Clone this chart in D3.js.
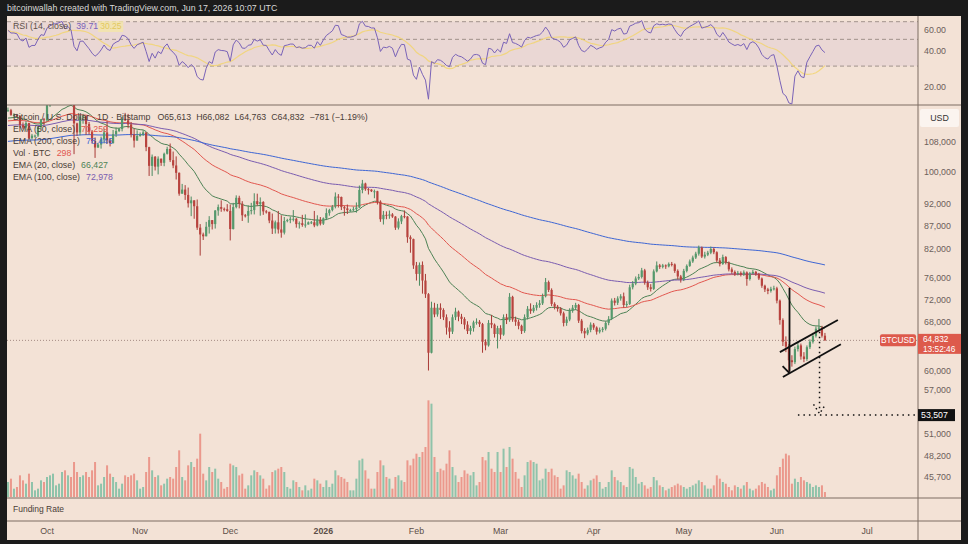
<!DOCTYPE html>
<html><head><meta charset="utf-8">
<script src="https://cdn.jsdelivr.net/npm/d3@7"></script>
<style>
body{margin:0;background:#1b1b1b;}
svg text{font-family:"Liberation Sans",Arial,sans-serif;}
</style></head><body><div id="chart"></div><script>
// daily BTCUSD (Bitstamp), thousands of USD, from Sep 18 2025 to Jun 17 2026
var startDate = Date.UTC(2025,8,18)
var firstOpen = 116.9
var close = [117.1,115.7,115.7,115.3,112.7,112.0,113.3,109.0,109.7,109.7,112.1,114.4,114.1,
 118.6,120.6,122.3,122.4,123.5,124.8,121.4,123.3,121.7,113.2,
 110.6,115.2,115.3,113.0,110.8,108.2,106.4,107.2,108.6,110.6,
 108.4,107.6,110.1,111.0,111.6,114.5,114.1,112.9,110.0,108.3,109.6,
 110.1,110.6,106.5,101.5,103.9,101.3,103.4,102.3,104.7,106.0,
 103.0,101.6,99.7,94.5,95.5,94.2,92.2,92.9,91.5,86.6,
 85.1,84.7,86.8,88.3,87.4,90.5,91.3,90.9,90.8,90.4,
 86.3,91.3,93.5,92.1,89.4,89.3,90.4,90.6,92.7,92.0,
 92.5,90.3,90.2,88.2,86.4,87.8,86.2,85.5,88.1,88.3,
 88.6,88.6,87.4,87.6,87.2,87.3,87.8,87.8,87.1,88.4,87.5,
 88.7,89.9,90.6,91.4,93.8,93.7,91.3,91.0,90.6,90.6,
 90.8,91.2,95.4,97.0,95.6,95.5,95.1,95.1,92.6,88.5,
 89.5,89.3,89.6,89.1,86.6,88.0,89.2,89.1,84.5,84.1,78.6,
 76.9,78.7,75.6,73.0,62.8,70.5,69.3,70.5,70.1,68.8,
 67.0,66.3,68.8,69.8,68.9,68.5,67.5,66.4,66.9,67.9,
 68.0,67.6,64.6,64.0,67.8,67.5,65.9,66.9,
 65.8,68.8,68.3,72.5,68.4,68.0,67.3,66.4,68.8,70.3,
 69.9,70.5,71.0,71.3,72.6,75.3,73.8,71.2,70.7,70.3,
 69.5,67.8,68.4,70.0,70.5,71.0,68.2,66.4,66.0,66.6,67.5,
 67.0,66.3,66.6,66.8,67.8,68.5,71.8,71.4,72.2,72.6,
 71.0,71.2,74.3,75.0,76.0,76.3,77.6,75.2,74.3,74.0,
 77.4,78.6,78.3,78.6,78.4,78.9,78.8,77.5,76.4,75.8,
 77.5,78.5,79.4,80.2,81.0,82.3,80.4,80.8,81.2,82.0,
 81.3,79.6,78.9,80.3,79.2,77.8,77.3,76.9,77.1,76.8,
 77.2,75.9,77.0,77.3,76.9,76.0,74.6,73.9,73.6,74.0,74.1,
 71.8,68.3,64.6,63.8,61.6,61.3,63.4,64.0,62.2,61.8,
 63.7,64.6,65.6,66.8,67.0,65.613,64.832]
var high = [117.9,117.5,116.2,116.0,115.4,113.5,113.9,113.4,110.2,110.0,112.4,114.5,114.8,
 118.8,121.0,123.9,122.9,125.6,126.2,125.1,124.2,123.8,122.5,
 113.4,115.8,116.0,115.4,113.6,111.3,109.2,107.7,109.4,111.7,
 114.0,109.0,111.3,112.0,111.9,115.2,116.3,116.0,113.6,111.7,111.2,
 110.6,111.2,110.7,106.6,104.5,104.1,104.0,103.4,105.0,106.6,
 107.5,105.3,104.0,99.8,96.9,96.6,96.0,93.8,92.9,93.1,
 87.4,85.5,87.9,89.2,88.2,90.6,91.9,92.9,91.2,92.0,
 91.9,92.3,94.1,94.0,92.7,89.7,91.7,92.3,94.6,94.5,
 93.6,92.7,90.6,90.1,89.8,88.2,90.4,89.4,89.0,88.6,
 89.1,90.6,88.8,88.0,89.5,89.6,88.0,88.1,90.4,89.4,89.0,
 88.9,91.0,90.9,91.8,94.8,94.4,93.8,91.6,91.9,90.9,
 91.4,92.4,96.5,97.9,97.2,95.9,95.6,95.5,95.2,92.9,
 90.4,90.3,90.5,89.9,89.2,88.7,89.5,90.5,89.2,84.9,84.2,
 79.3,79.2,79.4,76.9,73.2,71.6,71.4,71.2,71.3,70.4,
 69.3,68.1,69.3,70.5,70.0,69.4,68.8,68.1,67.3,68.2,
 68.6,68.3,67.8,65.0,68.3,69.2,67.7,67.3,
 67.4,69.3,69.4,73.2,72.7,68.9,68.4,67.5,69.3,70.8,
 71.3,71.0,71.5,71.9,73.1,76.1,75.6,74.1,71.5,71.0,
 70.6,69.8,68.9,70.4,71.0,71.4,71.2,68.5,66.9,67.0,67.9,
 67.8,67.2,67.0,67.1,68.1,69.0,72.2,72.3,72.6,73.0,
 73.3,71.7,74.8,75.5,76.4,76.9,78.1,77.9,75.6,74.9,
 77.8,79.4,78.9,78.9,78.8,79.2,79.3,79.0,77.8,76.7,
 77.9,78.8,79.8,80.6,81.4,82.7,82.5,81.4,81.6,82.5,
 82.3,81.5,80.1,80.8,80.5,79.4,78.2,77.6,77.5,77.4,
 77.6,77.4,77.3,77.7,77.5,77.1,76.2,74.8,74.2,74.4,74.6,
 74.4,72.0,68.6,65.5,64.2,62.4,63.8,64.6,64.3,62.9,
 64.0,65.0,66.1,67.2,68.5,67.3,66.082]
var low = [116.6,115.4,115.2,115.0,112.0,111.5,111.1,108.7,108.6,109.1,109.3,111.6,112.7,
 113.9,118.1,119.3,121.6,122.0,123.0,120.7,121.0,119.6,104.6,
 109.6,109.8,113.1,109.9,110.0,107.5,103.6,106.3,106.1,107.5,
 107.4,106.7,107.5,109.3,110.7,110.9,113.9,111.8,109.2,106.4,108.4,
 109.4,109.6,105.4,98.9,98.9,100.3,99.3,101.5,101.4,104.5,
 102.5,100.9,98.0,94.0,94.6,93.0,91.2,89.2,88.6,86.1,
 80.6,83.9,84.7,85.3,86.2,86.4,89.3,90.2,90.3,90.2,
 83.8,86.2,91.0,91.0,88.1,88.9,87.7,89.6,89.6,91.6,
 89.3,89.5,89.8,87.6,85.2,85.3,85.3,84.4,85.1,87.8,
 87.6,88.0,86.6,86.4,86.8,86.6,87.3,87.4,86.7,86.9,87.1,
 87.2,88.3,89.3,90.3,91.0,91.2,90.6,89.3,89.7,90.2,
 90.3,90.0,91.1,94.6,95.2,94.3,94.9,93.4,91.9,87.9,
 87.3,88.5,88.6,88.8,86.1,86.2,87.4,88.7,83.3,81.2,77.9,
 75.6,74.6,73.1,72.3,60.0,62.7,68.8,68.9,68.5,68.3,
 65.8,65.2,65.9,68.3,68.1,67.6,66.7,65.9,65.8,66.3,
 67.5,67.1,62.8,63.2,63.8,66.9,65.3,63.5,
 65.0,65.6,67.6,68.0,68.0,67.3,66.7,65.9,66.1,68.4,
 69.4,69.6,70.0,70.5,71.0,72.4,73.4,70.8,70.2,69.8,
 69.1,67.2,67.3,68.1,69.6,70.1,67.8,66.0,65.2,65.7,66.2,
 66.6,65.8,66.0,66.2,66.5,67.4,68.3,70.9,71.0,71.8,
 70.5,70.6,71.0,73.9,74.7,75.7,76.0,74.8,73.8,73.5,
 73.8,77.2,77.9,78.0,77.9,78.2,78.4,77.1,75.8,75.2,
 75.5,77.2,78.3,79.1,79.9,80.6,80.1,80.0,80.5,80.9,
 80.9,79.2,78.4,78.7,78.8,77.4,76.9,76.5,76.6,76.4,
 76.5,74.6,75.6,76.8,76.5,75.7,74.2,73.4,73.0,73.3,73.7,
 71.3,67.5,63.9,62.9,59.6,60.6,61.0,63.0,61.7,61.3,
 61.5,63.4,64.3,65.3,66.5,65.3,64.763]
// volume in BTC
var volume = [900,1100,500,600,1300,1000,800,1400,900,400,500,1000,900,
 1200,1300,1400,700,800,1500,1600,1300,1200,2100,
 1500,1200,1300,1500,1200,1600,2100,700,800,1200,
 1900,1400,1200,900,500,800,1300,1200,1300,1400,1000,
 500,600,1500,2400,1600,1200,1300,700,800,1100,
 1200,1100,1800,2800,1200,1000,1900,2100,1800,2300,
 3800,1400,1000,1800,1500,1700,1100,900,500,600,
 2000,1900,1800,1300,1400,500,700,1300,1600,1500,
 1300,1100,500,700,1500,1600,1700,1800,1500,600,
 500,1000,900,600,400,700,400,500,1100,1000,800,
 600,1000,600,800,1600,1300,1200,1100,900,400,
 400,1100,2200,2300,1600,1100,500,500,1500,2200,
 1900,1200,1100,500,1200,1300,1000,900,2200,1900,2300,
 2600,2400,2700,3000,5800,5600,2400,1500,1700,1600,
 2000,2800,1800,1300,900,1200,1600,1400,1300,1500,
 700,900,2400,2200,2700,1700,1500,2700,
 1500,2900,1800,3000,2300,1500,1100,600,1300,2100,
 2200,2100,2000,1000,1100,1700,1500,1700,1300,1200,
 500,700,1600,1500,1300,1100,1400,900,500,700,1000,
 1100,1300,900,500,600,900,1600,1200,1000,900,
 700,600,1800,1700,1200,800,900,700,500,600,
 1200,1000,700,600,400,500,600,700,800,700,
 600,500,600,700,800,1000,900,700,500,500,
 700,1300,1100,900,800,600,400,700,600,500,
 700,900,500,400,500,700,900,800,600,400,500,
 1300,1800,2300,2600,2500,800,1100,900,1200,1000,
 900,800,600,700,600,700,298]

var emaPeriods = [20,50,100,200]
var emaSeeds = [114.5,113.8,112.5,108.0]
var emaColors = ["#4d8255","#e2574f","#7a5cb0","#3e66d4"]
var priceTicks = [108000,100000,92000,87000,82000,76000,72000,68000,60000,57000,51000,48200,45700]
var rsiTicks = [60,40,20]
var rsiLevels = [70,50,30]
var monthStarts = [[2025,9],[2025,10],[2025,11],[2026,0],[2026,1],[2026,2],[2026,3],[2026,4],[2026,5],[2026,6]]
var monthLabels = ["Oct","Nov","Dec","2026","Feb","Mar","Apr","May","Jun","Jul"]
var lastPrice = 64832, targetPrice = 53507
// flag drawing: [days after Jun 1 2026, price]
var flagPole = [[4.2,74200],[4.2,59800]]
var flagTick = [[1.9,60700],[4.2,59600]]
var flagUpper = [[1.0,62900],[20.3,68300]]
var flagLower = [[2.0,59000],[21.3,64200]]
var targetDrop = [[14.2,66300],[14.2,54000]]

var W=968, H=544
var L=7, R=961, T=16, AX=918
var rsiB=105, mainB=498, fundB=521, B=540
var day=86400000

var rows = close.map(function(c,i){
  var o = i==0 ? firstOpen : close[i-1]
  return {date:new Date(startDate+i*day), o:o*1000, c:c*1000, h:high[i]*1000, l:low[i]*1000, v:volume[i]}
})

var x = d3.scaleUtc().domain([Date.UTC(2025,9,1),Date.UTC(2026,6,1)]).range([47,867])
var y = d3.scaleLog().domain([108000,45700]).range([141.7,476.5])
var yr = d3.scaleLog().domain([70,30]).range([21.7,66.1])
var yv = d3.scaleLinear().domain([0,6000]).range([mainB-1,mainB-101])

function ema(vals,n,seed){
  var k=2/(n+1), e=seed, out=[]
  vals.forEach(function(v){ e=v*k+e*(1-k); out.push(e) })
  return out
}
// RSI 14 (Wilder) and its 14 SMA
var ag=1300, al=900, rsi=[]
rows.forEach(function(d){
  var ch=d.c-d.o
  ag=(ag*13+Math.max(ch,0))/14; al=(al*13+Math.max(-ch,0))/14
  rsi.push(100-100/(1+ag/al))
})
var rsiMa = rsi.map(function(v,i){ return d3.mean(rsi.slice(Math.max(0,i-13),i+1)) })

var svg = d3.select("#chart").append("svg").attr("width",W).attr("height",H)
svg.append("rect").attr("width",W).attr("height",H).attr("fill","#1b1b1b")
svg.append("text").attr("x",7).attr("y",11).attr("fill","#d9d9d9").style("font-size","8.8px")
  .text("bitcoinwallah created with TradingView.com, Jun 17, 2026 10:07 UTC")
svg.append("rect").attr("x",L).attr("y",T).attr("width",R-L).attr("height",B-T).attr("fill","#f3e2d6")

var defs = svg.append("defs")
defs.append("clipPath").attr("id","cm").append("rect").attr("x",L).attr("y",rsiB).attr("width",AX-L).attr("height",mainB-rsiB)
defs.append("clipPath").attr("id","cr").append("rect").attr("x",L).attr("y",T).attr("width",AX-L).attr("height",rsiB-T)

// ---- RSI pane
var gr = svg.append("g").attr("clip-path","url(#cr)")
gr.append("rect").attr("x",L).attr("y",yr(70)).attr("width",AX-L).attr("height",yr(30)-yr(70)).attr("fill","#7e57c2").attr("opacity",0.08)
gr.selectAll(".lvl").data(rsiLevels).enter().append("line")
  .attr("x1",L).attr("x2",AX).attr("y1",yr).attr("y2",yr)
  .attr("stroke","#8d8079").attr("stroke-dasharray","4,3").attr("stroke-width",0.8)
gr.append("path").datum(rsiMa).attr("fill","none").attr("stroke","#f2d46a").attr("stroke-width",1.2).attr("opacity",0.8)
  .attr("d",d3.line().x(function(d,i){return x(rows[i].date)}).y(function(d){return yr(d)}))
gr.append("path").datum(rsi).attr("fill","none").attr("stroke","#7a63b8").attr("stroke-width",1)
  .attr("d",d3.line().x(function(d,i){return x(rows[i].date)}).y(function(d){return yr(d)}))
var rl = svg.append("text").attr("x",13).attr("y",29).style("font-size","8.8px").attr("fill","#5d5049")
rl.append("tspan").text("RSI (14, close)")
rl.append("tspan").attr("dx",5).attr("fill","#7a63b8").text("39.71")
var rlEnd = 13 + rl.node().getComputedTextLength()
svg.append("rect").attr("x",rlEnd+5).attr("y",21).attr("width",25).attr("height",11).attr("fill","#f4e6a8").attr("opacity",0.8)
svg.append("text").attr("x",rlEnd+7).attr("y",29).style("font-size","8.5px").attr("fill","#e2c85e").text(d3.format(".2f")(rsiMa[rsiMa.length-1]))

// ---- main pane
var gm = svg.append("g").attr("clip-path","url(#cm)")
gm.append("line").attr("x1",L).attr("x2",AX).attr("y1",y(lastPrice)).attr("y2",y(lastPrice))
  .attr("stroke","#a48c84").attr("stroke-dasharray","1,2")
gm.selectAll(".vol").data(rows).enter().append("rect")
  .attr("x",function(d){return x(d.date)-1}).attr("width",2)
  .attr("y",function(d){return yv(d.v)}).attr("height",function(d){return yv(0)-yv(d.v)})
  .attr("fill",function(d){return d.c>=d.o?"#8fc3aa":"#eb988c"})
emaPeriods.forEach(function(n,j){
  var e = ema(rows.map(function(d){return d.c}),n,emaSeeds[j]*1000)
  gm.append("path").datum(e).attr("fill","none").attr("stroke",emaColors[j]).attr("stroke-width",1)
    .attr("d",d3.line().x(function(d,i){return x(rows[i].date)}).y(function(d){return y(d)}))
})
var cg = gm.selectAll(".candle").data(rows).enter().append("g")
cg.append("line").attr("x1",function(d){return x(d.date)}).attr("x2",function(d){return x(d.date)})
  .attr("y1",function(d){return y(Math.max(d.h,d.o,d.c))}).attr("y2",function(d){return y(Math.min(d.l,d.o,d.c))})
  .attr("stroke",function(d){return d.c>=d.o?"#4a8a60":"#a83a36"}).attr("stroke-width",1)
cg.append("rect").attr("x",function(d){return x(d.date)-1.1}).attr("width",2.2)
  .attr("y",function(d){return y(Math.max(d.o,d.c))})
  .attr("height",function(d){return Math.max(1,Math.abs(y(d.o)-y(d.c)))})
  .attr("fill",function(d){return d.c>=d.o?"#55996c":"#b8433e"})

// flag annotation
var jun1 = Date.UTC(2026,5,1)
var pt = d3.line().x(function(d){return x(new Date(jun1+d[0]*day))}).y(function(d){return y(d[1])})
;[flagPole,flagTick,flagUpper,flagLower].forEach(function(s){
  gm.append("path").attr("d",pt(s)).attr("stroke","#111").attr("stroke-width",1.8).attr("fill","none")
})
gm.append("path").attr("d",pt(targetDrop)).attr("stroke","#111").attr("stroke-width",1.5).attr("stroke-dasharray","1.5,3.5").attr("fill","none")
gm.append("path").attr("d",pt([[12.2,55000],[14.2,53700],[16.2,55000]])).attr("stroke","#111").attr("stroke-width",1.5).attr("stroke-dasharray","1.5,3").attr("fill","none")
gm.append("path").attr("d",pt([[7,targetPrice],[60,targetPrice]])).attr("stroke","#111").attr("stroke-width",1.5).attr("stroke-dasharray","1.5,4").attr("fill","none")

// legend
var lg = svg.append("g").style("font-size","8.8px").attr("fill","#4a3d36")
var l1 = lg.append("text").attr("x",13).attr("y",120)
l1.append("tspan").text("Bitcoin / U.S. Dollar · 1D · Bitstamp")
l1.append("tspan").attr("dx",7).text("O65,613")
l1.append("tspan").attr("dx",5).text("H66,082")
l1.append("tspan").attr("dx",5).text("L64,763")
l1.append("tspan").attr("dx",5).text("C64,832")
l1.append("tspan").attr("dx",5).text("−781 (−1.19%)")
var legRows = [["EMA (50, close)","70,259","#e2574f"],["EMA (200, close)","78,446","#3e66d4"],["Vol · BTC","298","#e2574f"],["EMA (20, close)","66,427","#4d8255"],["EMA (100, close)","72,978","#7a5cb0"]]
legRows.forEach(function(r,i){
  var t = lg.append("text").attr("x",13).attr("y",132+i*12)
  t.append("tspan").text(r[0])
  t.append("tspan").attr("dx",6).attr("fill",r[2]).text(r[1])
})

// funding pane + separators
svg.append("text").attr("x",13).attr("y",512).style("font-size","8.5px").attr("fill","#4a3d36").text("Funding Rate")
;[rsiB,mainB,fundB].forEach(function(v){
  svg.append("line").attr("x1",L).attr("x2",R).attr("y1",v).attr("y2",v).attr("stroke","#7c6c63").attr("stroke-width",1)
})
svg.append("line").attr("x1",AX).attr("x2",AX).attr("y1",T).attr("y2",B).attr("stroke","#7c6c63").attr("stroke-width",1)

// price axis
var fmt = d3.format(",")
svg.selectAll(".pt").data(priceTicks).enter().append("text")
  .attr("x",924).attr("y",function(d){return y(d)+3}).style("font-size","8.8px").attr("fill","#6d605a")
  .text(function(d){return fmt(d)})
svg.selectAll(".rt").data(rsiTicks).enter().append("text")
  .attr("x",924).attr("y",function(d){return yr(d)+3}).style("font-size","8.8px").attr("fill","#6d605a")
  .text(function(d){return d3.format(".2f")(d)})
svg.append("rect").attr("x",920).attr("y",109).attr("width",39).attr("height",18).attr("rx",2).attr("fill","#fbf4ef")
svg.append("text").attr("x",939.5).attr("y",121).attr("text-anchor","middle").style("font-size","8.8px").attr("fill","#333").text("USD")

// last price labels
svg.append("rect").attr("x",880).attr("y",y(lastPrice)-6).attr("width",36).attr("height",12).attr("rx",2).attr("fill","#dd5a4c")
svg.append("text").attr("x",898).attr("y",y(lastPrice)+3).attr("text-anchor","middle").style("font-size","8.3px").attr("fill","#fff").text("BTCUSD")
svg.append("rect").attr("x",AX).attr("y",y(lastPrice)-6.5).attr("width",43).attr("height",20).attr("fill","#dd5a4c")
svg.append("text").attr("x",923).attr("y",y(lastPrice)+2).style("font-size","8.3px").attr("fill","#fff").text(fmt(lastPrice))
svg.append("text").attr("x",923).attr("y",y(lastPrice)+11.5).style("font-size","8.3px").attr("fill","#fff").text("13:52:46")
svg.append("rect").attr("x",AX).attr("y",y(targetPrice)-6).attr("width",37).attr("height",12).attr("fill","#111")
svg.append("text").attr("x",921).attr("y",y(targetPrice)+3).style("font-size","8.8px").attr("fill","#fff").text(fmt(targetPrice))

// time axis
svg.selectAll(".mt").data(monthStarts).enter().append("text")
  .attr("x",function(d){return x(new Date(Date.UTC(d[0],d[1],1)))}).attr("y",534)
  .attr("text-anchor","middle").style("font-size","8.8px").attr("fill","#5c4f48")
  .style("font-weight",function(d,i){return monthLabels[i]=="2026"?"bold":"normal"})
  .text(function(d,i){return monthLabels[i]})
</script></body></html>
